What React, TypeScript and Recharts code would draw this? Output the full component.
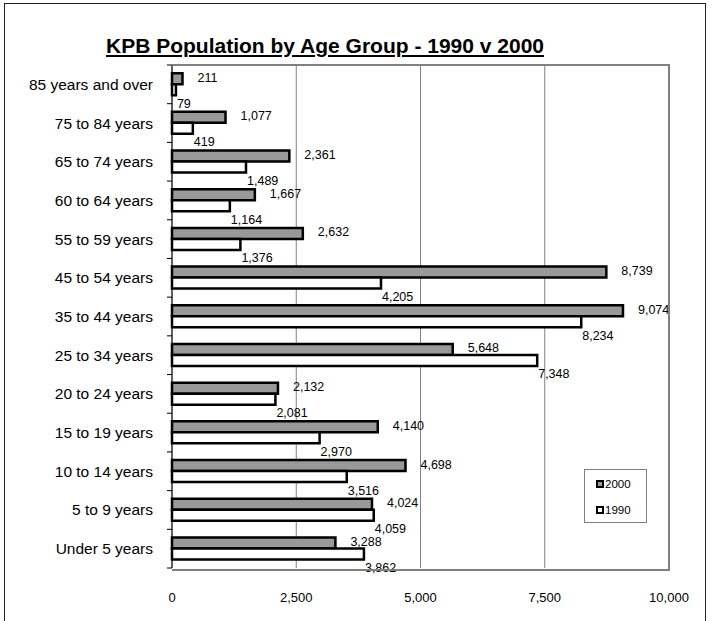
import React from "react";
import {
  BarChart,
  Bar,
  XAxis,
  YAxis,
  CartesianGrid,
  LabelList,
} from "recharts";

const AGE_GROUPS = [
  "85 years and over",
  "75 to 84 years",
  "65 to 74 years",
  "60 to 64 years",
  "55 to 59 years",
  "45 to 54 years",
  "35 to 44 years",
  "25 to 34 years",
  "20 to 24 years",
  "15 to 19 years",
  "10 to 14 years",
  "5 to 9 years",
  "Under 5 years",
];
const POP_2000 = [211, 1077, 2361, 1667, 2632, 8739, 9074, 5648, 2132, 4140, 4698, 4024, 3288];
const POP_1990 = [79, 419, 1489, 1164, 1376, 4205, 8234, 7348, 2081, 2970, 3516, 4059, 3862];
const X_TICKS = [0, 2500, 5000, 7500, 10000];
const SERIES = ["2000", "1990"];

const FONT = "'Liberation Sans', Arial, sans-serif";
const GREY = "#999999";
const LINE = "#808080";

// plot box (Excel-ish layout)
const PLOT_L = 172;
const PLOT_T = 65;
const PLOT_R = 669;
const PLOT_B = 568;
const W = 712;
const H = 621;
const BAND = (PLOT_B - PLOT_T) / AGE_GROUPS.length;

const data = AGE_GROUPS.map((group, i) => ({
  group,
  y2000: POP_2000[i],
  y1990: POP_1990[i],
}));

const fmt = (v: number) => v.toLocaleString("en-US");

function AgeTick(props: any) {
  const { x, y, payload, index } = props;
  const axisX = x + 19;
  return (
    <g>
      <text
        x={x}
        y={y}
        textAnchor="end"
        dominantBaseline="central"
        fontSize={15.5}
        fontFamily={FONT}
        fill="#000"
      >
        {payload.value}
      </text>
      <line x1={axisX - 5} x2={axisX} y1={y + BAND / 2} y2={y + BAND / 2} stroke="#000" />
      {index === 0 && (
        <line x1={axisX - 5} x2={axisX} y1={y - BAND / 2} y2={y - BAND / 2} stroke="#000" />
      )}
    </g>
  );
}

function label2000(props: any) {
  const { x, y, width, height, value } = props;
  return (
    <text
      x={x + width + 15}
      y={y + height / 2 - 1}
      dominantBaseline="central"
      fontSize={12.5}
      fontFamily={FONT}
      fill="#000"
    >
      {fmt(value)}
    </text>
  );
}

function label1990(props: any) {
  const { x, y, width, height, value } = props;
  return (
    <text
      x={x + width + 1}
      y={y + height / 2 + 14}
      dominantBaseline="central"
      fontSize={12.5}
      fontFamily={FONT}
      fill="#000"
    >
      {fmt(value)}
    </text>
  );
}

function LegendBox() {
  const item = (fill: string, text: string) => (
    <div key={text} style={{ display: "flex", alignItems: "center", height: 26 }}>
      <span
        style={{
          display: "inline-block",
          width: 4,
          height: 4,
          background: fill,
          border: "2px solid #000",
          marginRight: 1,
        }}
      />
      <span style={{ fontSize: 11.5, fontFamily: FONT }}>{text}</span>
    </div>
  );
  return (
    <div
      style={{
        position: "absolute",
        left: 584,
        top: 469,
        width: 63,
        height: 54,
        border: `1px solid ${LINE}`,
        background: "#fff",
        boxSizing: "border-box",
        paddingLeft: 11,
        paddingTop: 1,
      }}
    >
      {item(GREY, SERIES[0])}
      {item("#fff", SERIES[1])}
    </div>
  );
}

export default function App() {
  return (
    <div
      style={{
        position: "absolute",
        left: 0,
        top: 0,
        width: W,
        height: H,
        overflow: "hidden",
        background: "#fff",
        fontFamily: FONT,
      }}
    >
      <div
        style={{
          position: "absolute",
          left: 4,
          top: 3,
          width: 700,
          height: 680,
          border: "1px solid #222",
        }}
      />
      <div
        style={{
          position: "absolute",
          left: 0,
          width: 650,
          top: 34,
          textAlign: "center",
          fontSize: 21,
          fontWeight: "bold",
          textDecoration: "underline",
          color: "#000",
        }}
      >
        KPB Population by Age Group - 1990 v 2000
      </div>
      <BarChart
        width={W}
        height={H}
        data={data}
        layout="vertical"
        barCategoryGap="21%"
        barGap={0}
        margin={{ top: PLOT_T, right: W - PLOT_R, left: 12, bottom: H - PLOT_B - 30 }}
        style={{ position: "absolute", left: 0, top: 0 }}
      >
        <CartesianGrid horizontal={false} stroke={LINE} strokeWidth={1} />
        <XAxis
          type="number"
          domain={[0, 10000]}
          ticks={X_TICKS}
          tickFormatter={fmt}
          axisLine={false}
          tickLine={false}
          tickSize={0}
          tickMargin={25}
          height={30}
          tick={{ fontSize: 13, fill: "#000", fontFamily: FONT }}
          interval={0}
        />
        <YAxis
          type="category"
          dataKey="group"
          width={PLOT_L - 12}
          axisLine={{ stroke: "#000" }}
          tickLine={false}
          tickSize={0}
          tickMargin={19}
          tick={<AgeTick />}
          interval={0}
        />
        <Bar
          dataKey="y2000"
          name={SERIES[0]}
          fill={GREY}
          stroke="#000"
          strokeWidth={2.5}
          isAnimationActive={false}
        >
          <LabelList dataKey="y2000" content={label2000} />
        </Bar>
        <Bar
          dataKey="y1990"
          name={SERIES[1]}
          fill="#fff"
          stroke="#000"
          strokeWidth={2.5}
          isAnimationActive={false}
        >
          <LabelList dataKey="y1990" content={label1990} />
        </Bar>
      </BarChart>
      <div
        style={{
          position: "absolute",
          left: PLOT_L,
          top: PLOT_T - 1,
          width: PLOT_R - PLOT_L - 1,
          height: PLOT_B - PLOT_T,
          borderTop: `2px solid ${LINE}`,
          borderRight: `2px solid ${LINE}`,
          borderBottom: `2px solid ${LINE}`,
          pointerEvents: "none",
        }}
      />
      <LegendBox />
    </div>
  );
}
